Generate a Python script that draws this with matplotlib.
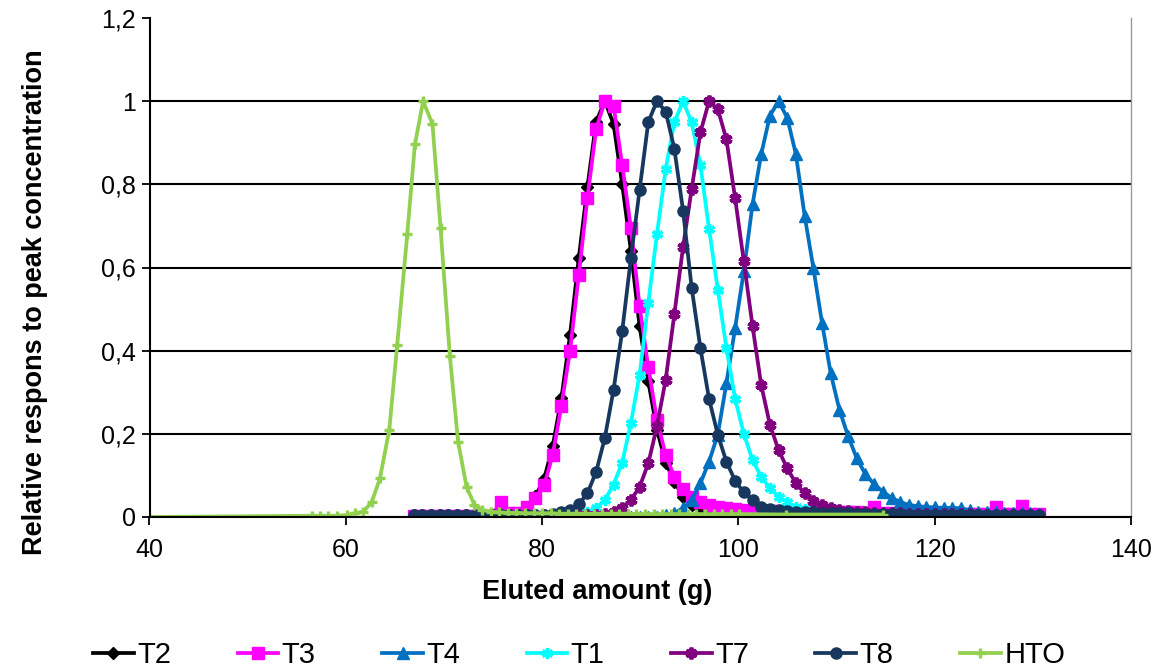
import matplotlib
matplotlib.use("Agg")
import matplotlib.pyplot as plt

plt.rcParams['font.family'] = ['Liberation Sans', 'DejaVu Sans']

# eluted amount (g) of the fractions analysed for the T tracers
frac_x = [66.92, 67.81, 68.69, 69.58, 70.46, 71.35, 72.23, 73.12, 74.00, 74.89,
          75.77, 76.66, 77.54, 78.43, 79.31, 80.20, 81.08, 81.97, 82.85, 83.74,
          84.62, 85.51, 86.39, 87.28, 88.16, 89.05, 89.93, 90.82, 91.70, 92.59,
          93.47, 94.36, 95.24, 96.13, 97.01, 97.90, 98.78, 99.67, 100.55, 101.44,
          102.32, 103.21, 104.09, 104.98, 105.86, 106.75, 107.63, 108.52, 109.40, 110.29,
          111.17, 112.06, 112.94, 113.83, 114.71, 115.60, 116.48, 117.37, 118.25, 119.14,
          120.02, 120.91, 121.79, 122.68, 123.56, 124.45, 125.33, 126.22, 127.10, 127.99,
          128.87, 129.76, 130.64]

t2 = ([0.002] * 10 +
      [0.002, 0.002, 0.010, 0.022, 0.050, 0.091, 0.170, 0.286, 0.438, 0.623] +
      [0.794, 0.951, 1.000, 0.945, 0.800, 0.640, 0.459, 0.326, 0.210, 0.131] +
      [0.085, 0.049, 0.030, 0.020, 0.012, 0.008, 0.005, 0.004, 0.003, 0.003] +
      [0.003, 0.003, 0.003] + [0.002] * 30)

t3 = ([0.003] * 10 +
      [0.037, 0.010, 0.009, 0.025, 0.045, 0.076, 0.149, 0.268, 0.400, 0.583] +
      [0.768, 0.933, 1.000, 0.989, 0.847, 0.694, 0.507, 0.360, 0.234, 0.149] +
      [0.097, 0.067, 0.049, 0.037, 0.029, 0.025, 0.022, 0.019, 0.017, 0.015] +
      [0.015, 0.014, 0.014, 0.013, 0.013, 0.013, 0.012, 0.012, 0.012, 0.011] +
      [0.011, 0.011, 0.010, 0.025, 0.010, 0.010, 0.010, 0.009, 0.009, 0.009] +
      [0.009, 0.009, 0.009, 0.008, 0.008, 0.008, 0.008, 0.025, 0.008, 0.008] +
      [0.026, 0.008, 0.008])

t4 = ([0.0] * 29 + [0.004] +
      [0.010, 0.021, 0.041, 0.081, 0.133, 0.198, 0.322, 0.455, 0.591, 0.752] +
      [0.872, 0.965, 1.000, 0.960, 0.872, 0.724, 0.600, 0.467, 0.346, 0.258] +
      [0.195, 0.141, 0.103, 0.079, 0.061, 0.046, 0.036, 0.029, 0.026, 0.024] +
      [0.023, 0.022, 0.022, 0.021, 0.016, 0.013, 0.012, 0.011, 0.010, 0.010] +
      [0.009, 0.009, 0.008])

t1 = ([0.003] * 19 + [0.008] +
      [0.012, 0.021, 0.041, 0.078, 0.131, 0.226, 0.342, 0.515, 0.680, 0.836] +
      [0.949, 1.000, 0.949, 0.847, 0.692, 0.547, 0.406, 0.284, 0.200, 0.137] +
      [0.097, 0.069, 0.049, 0.035, 0.025, 0.020, 0.016, 0.013, 0.011, 0.010] +
      [0.009, 0.009, 0.008, 0.008, 0.007, 0.007, 0.007, 0.006, 0.006, 0.006] +
      [0.006, 0.006] + [0.005] * 11)

t7 = ([0.004] * 20 +
      [0.004, 0.006, 0.008, 0.012, 0.021, 0.041, 0.072, 0.129, 0.218, 0.330] +
      [0.487, 0.649, 0.789, 0.925, 1.000, 0.981, 0.908, 0.766, 0.615, 0.459] +
      [0.318, 0.222, 0.161, 0.117, 0.081, 0.057, 0.039, 0.029, 0.022, 0.018] +
      [0.015, 0.013, 0.011, 0.010, 0.010, 0.009, 0.009, 0.008, 0.008, 0.008] +
      [0.007] * 5 + [0.006] * 8)

t8 = ([0.005] * 16 + [0.008, 0.012, 0.018, 0.031] +
      [0.057, 0.109, 0.190, 0.306, 0.447, 0.623, 0.786, 0.950, 1.000, 0.975] +
      [0.886, 0.737, 0.551, 0.406, 0.284, 0.198, 0.133, 0.087, 0.059, 0.041] +
      [0.025, 0.020, 0.017, 0.015, 0.013, 0.012, 0.011, 0.010, 0.010, 0.009] +
      [0.009, 0.008, 0.008, 0.008, 0.007, 0.007, 0.007, 0.006, 0.006, 0.006] +
      [0.006] * 5 + [0.005] * 8)

# HTO was sampled on its own set of fractions
hto_x = [40.0, 56.53, 57.38, 58.23, 59.14, 60.09, 60.94, 61.78, 62.63, 63.48,
         64.43, 65.24, 66.26, 67.04, 67.88, 68.83, 69.65, 70.60, 71.44, 72.30,
         73.10, 73.90, 74.77, 75.65, 76.52, 77.39, 78.27, 79.14, 80.01, 80.88,
         81.76, 82.63, 83.50, 84.38, 85.25, 86.12, 87.00, 87.87, 88.74, 89.61,
         90.49, 91.36, 92.23, 93.11, 93.98, 94.85, 95.73, 96.60, 97.47, 98.34,
         99.22, 100.09, 104.90, 114.70]
hto_y = [0.0, 0.003, 0.003, 0.003, 0.003, 0.005, 0.009, 0.013, 0.035, 0.093,
         0.210, 0.414, 0.680, 0.896, 1.000, 0.945, 0.696, 0.388, 0.181, 0.073,
         0.029, 0.017, 0.013, 0.011, 0.010, 0.010, 0.009, 0.009, 0.009, 0.009,
         0.008, 0.008, 0.008, 0.008, 0.008, 0.008, 0.008, 0.008, 0.008, 0.007,
         0.007, 0.007, 0.007, 0.007, 0.007, 0.007, 0.007, 0.007, 0.007, 0.007,
         0.007, 0.007, 0.006, 0.006]

series_names = ["T2", "T3", "T4", "T1", "T7", "T8", "HTO"]
y_ticks = [0, 0.2, 0.4, 0.6, 0.8, 1.0, 1.2]
y_tick_labels = ["0", "0,2", "0,4", "0,6", "0,8", "1", "1,2"]
x_ticks = [40, 60, 80, 100, 120, 140]

star = (6, 2, 0)
styles = {
    "T2": dict(color="#000000", marker="D", ms=6.5),
    "T3": dict(color="#FF00FF", marker="s", ms=8),
    "T4": dict(color="#0070C0", marker="^", ms=9),
    "T1": dict(color="#00FFFF", marker=star, ms=8, mew=2.4),
    "T7": dict(color="#800080", marker=star, ms=8.5, mew=2.8),
    "T8": dict(color="#17375E", marker="o", ms=8),
    "HTO": dict(color="#92D050", marker="+", ms=6.5, mew=2.4),
}
line_w = 2.7

fig = plt.figure(figsize=(11.58, 6.68), dpi=100)
ax = fig.add_axes([149.5 / 1158, 1 - 517 / 668, 981.5 / 1158, 499 / 668])

all_y = [t2, t3, t4, t1, t7, t8]
handles = []
for name, yv in zip(series_names[:6], all_y):
    st = styles[name]
    h, = ax.plot(frac_x, yv, color=st["color"], lw=line_w, marker=st["marker"],
                 ms=st["ms"], mew=st.get("mew", 1), mec=st["color"], mfc=st["color"])
    handles.append(h)
st = styles["HTO"]
h, = ax.plot(hto_x, hto_y, color=st["color"], lw=line_w, marker=st["marker"],
             ms=st["ms"], mew=st["mew"], mec=st["color"])
handles.append(h)

ax.set_xlim(40, 140)
ax.set_ylim(0, 1.2)
ax.set_xticks(x_ticks)
ax.set_yticks(y_ticks)
ax.set_yticklabels(y_tick_labels)
ax.tick_params(axis="both", labelsize=18, length=6, width=1.3, direction="out")
ax.tick_params(axis="y", pad=4)
ax.tick_params(axis="x", pad=9)

ax.set_axisbelow(True)
ax.yaxis.grid(True, color="black", lw=1.5)
ax.get_ygridlines()[-1].set_visible(False)

ax.spines["top"].set_visible(False)
ax.spines["right"].set_color("#9a9a9a")
ax.spines["right"].set_linewidth(1.0)
ax.spines["left"].set_linewidth(1.5)
ax.spines["bottom"].set_linewidth(1.5)

ax.set_xlabel("Eluted amount (g)", fontsize=19.5, fontweight="bold")
ax.xaxis.set_label_coords(0.4565, -0.125)
ax.set_ylabel("Relative respons to peak concentration", fontsize=19.5, fontweight="bold")
ax.yaxis.set_label_coords(-0.103, 0.431)

fig.legend(handles, series_names, ncol=7, loc="center left",
           bbox_to_anchor=(93 / 1158, 1 - 655 / 668), frameon=False,
           prop={"family": ["Liberation Sans Narrow", "Liberation Sans"], "size": 21},
           handlelength=1.4, handletextpad=0.12, columnspacing=2.27,
           borderpad=0, borderaxespad=0)

fig.savefig("out.png", dpi=100)
